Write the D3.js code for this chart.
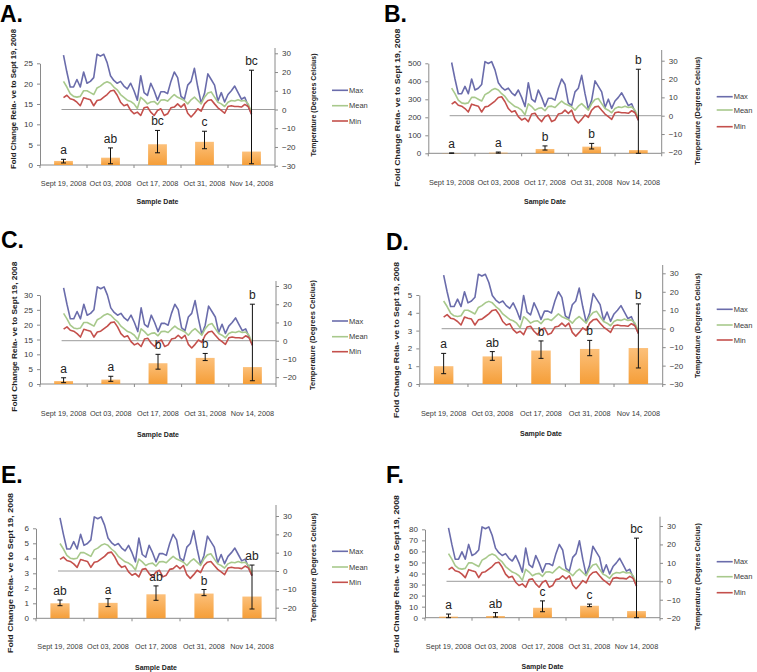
<!DOCTYPE html>
<html>
<head>
<meta charset="utf-8">
<script src="https://cdn.jsdelivr.net/npm/d3@7"></script>
<style>
  body { margin: 0; background: #fff; }
  svg { display: block; font-family: "Liberation Sans", Arial, sans-serif; }
</style>
</head>
<body>
<svg id="chart" width="757" height="672"></svg>
<script>
// sample dates (bar categories) and panel names
const sampleDates = ["Sept 19, 2008", "Oct 03, 2008", "Oct 17, 2008", "Oct 31, 2008", "Nov 14, 2008"];
const panelLabels = ["A.", "B.", "C.", "D.", "E.", "F."];

// fold change per panel (means, error bar ends, significance letters)
const foldMean = [
  [1.0, 1.8, 5.1, 5.7, 3.3],
  [1, 4, 24, 37, 18],
  [1.0, 1.5, 7.0, 8.8, 5.7],
  [1.0, 1.55, 1.88, 1.97, 2.02],
  [1.0, 1.03, 1.6, 1.65, 1.45],
  [1, 1.5, 9, 10.8, 6]
];
const errUpper = [
  [1.4, 4.2, 8.5, 8.3, 23.3],
  [2, 7, 41, 55, 467],
  [2.1, 2.6, 10, 10.3, 26.9],
  [1.72, 1.82, 2.42, 2.45, 4.5],
  [1.22, 1.31, 2.16, 1.92, 3.55],
  [3.3, 4.6, 15.2, 12.3, 72]
];
const errLower = [
  [0.5, 0.3, 3.0, 4.0, 0.3],
  [0, 1, 18, 24, 0],
  [0.45, 0.9, 5.0, 7.9, 1.1],
  [0.58, 1.33, 1.44, 1.59, 0.9],
  [0.84, 0.78, 1.2, 1.51, 0.62],
  [0, 0.6, 5.4, 10, 0]
];
const sigLetters = [
  ["a", "ab", "bc", "c", "bc"],
  ["a", "a", "b", "b", "b"],
  ["a", "a", "b", "b", "b"],
  ["a", "ab", "b", "b", "b"],
  ["ab", "a", "ab", "b", "ab"],
  ["a", "ab", "c", "c", "bc"]
];

// axis tick labels
const leftTicks = [
  [0, 5, 10, 15, 20, 25],
  [0, 100, 200, 300, 400, 500],
  [0, 5, 10, 15, 20, 25, 30],
  [0, 1, 2, 3, 4, 5],
  [0, 1, 2, 3, 4, 5, 6],
  [0, 10, 20, 30, 40, 50, 60, 70, 80]
];
const tempTicks = [
  [-30, -20, -10, 0, 10, 20, 30],
  [-20, -10, 0, 10, 20, 30],
  [-20, -10, 0, 10, 20, 30],
  [-30, -20, -10, 0, 10, 20, 30],
  [-20, -10, 0, 10, 20, 30],
  [-20, -10, 0, 10, 20, 30]
];

// daily air temperature, Sept 19 - Nov 14 2008
const tempMax = [29, 20, 12, 12, 16, 12, 20, 14, 15, 17, 29.5, 28.5, 29.5, 25, 18, 15.5, 14, 15, 12.5, 11,
  14, 10, 5, 18, 9, 7.5, 14, 10, 5, 9.5, 9.5, 8.5, 15, 20, 17, 7, 5.5, 13, 15, 22,
  12, 3.5, 8.5, 19, 16, 13, 4.5, 9, 4, 8, 10, 12.5, 9, 5.5, 6.5, 2, -2.5];
const tempMean = [15, 12, 8.5, 7, 6.6, 7, 10, 10, 9, 8, 11.5, 12.5, 14, 14.8, 14, 12, 10.5, 8, 6.5, 5,
  4.3, 3, 0.5, 6.5, 5, 3, 4, 4.3, 2.7, 5, 5.2, 4.5, 6.3, 8, 6.5, 5.7, 4.8, 3, 5.2, 6.6,
  4.8, 3, 6.6, 8.8, 9.4, 6.6, 3.9, 3, 1.6, 3.9, 4.8, 4.5, 5.2, 4.5, 4.8, 3, -1.5];
const tempMin = [6.3, 7.6, 5.7, 5.2, 3.9, 2, 6.3, 5.7, 5.2, 2, 4.8, 5.2, 6.6, 8, 9.9, 10.3, 7.6, 3.9, 2, 2.7,
  -0.5, -2.3, -1.4, -3.2, 0.9, 1.3, -1.4, -3.2, -0.5, 0.4, -3.2, -2.3, 0.9, 1.3, 3, 1.3, 3, -2, -4, -2,
  0.4, -0.9, 3, 4.8, 5.2, 3, 0.9, -0.5, -2, 1.6, 2, 1.6, 1.6, 1.3, 2.7, 1.6, -2.5];

const seriesNames = ["Max", "Mean", "Min"];
const seriesColors = ["#6a6cab", "#a8c98c", "#c4504c"];

// where each panel sits on the page
const layout = [
  {ax: 40, bx: 275, y0: 165, yTop: 63.3, t30: 53.3, t0: 109.5, tTop: 48, lx: 0, ly: 21.5, tickY: 183, dateY: 201.7,
   ltx: 13, lty: 99, ltLen: 140, rtx: 313.3, rty: 105, rtLen: 103, legX: 332, legY: [90.3, 105.7, 121]},
  {ax: 428.3, bx: 661.7, y0: 153.3, yTop: 63.3, t30: 60.7, t0: 115.7, tTop: 50, lx: 384, ly: 21.5, tickY: 182.7, dateY: 201.7,
   ltx: 397.3, lty: 107.7, ltLen: 158, rtx: 696.7, rty: 110.8, rtLen: 108, legX: 716.7, legY: [96.7, 110, 126.7]},
  {ax: 40, bx: 276, y0: 384, yTop: 295, t30: 286, t0: 340.7, tTop: 281, lx: 1, ly: 248, tickY: 413.3, dateY: 434,
   ltx: 14, lty: 336.7, ltLen: 150, rtx: 312.3, rty: 335, rtLen: 110, legX: 332, legY: [321, 336.7, 351.7]},
  {ax: 419.3, bx: 662.7, y0: 384, yTop: 295, t30: 273.3, t0: 328.7, tTop: 265, lx: 386, ly: 250, tickY: 413.3, dateY: 433.3,
   ltx: 396, lty: 340, ltLen: 156, rtx: 696.7, rty: 325.5, rtLen: 105, legX: 716.7, legY: [309.3, 325, 340]},
  {ax: 36, bx: 276, y0: 618.3, yTop: 528.3, t30: 516, t0: 571, tTop: 505, lx: 1, ly: 483, tickY: 646.7, dateY: 667.7,
   ltx: 10, lty: 573, ltLen: 160, rtx: 312.7, rty: 567.5, rtLen: 109, legX: 332, legY: [551.3, 567, 582.3]},
  {ax: 425, bx: 660, y0: 617.7, yTop: 529.3, t30: 526, t0: 581.3, tTop: 516.7, lx: 386, ly: 483, tickY: 646.7, dateY: 666.7,
   ltx: 396, lty: 574, ltLen: 158, rtx: 696.7, rty: 576.7, rtLen: 107, legX: 716.7, legY: [561.7, 576.7, 592.7]}
];

const axisColor = "#8a8a8a";
const textColor = "#3a3a3a";

const svg = d3.select("#chart");

// orange bar gradient
const grad = svg.append("defs").append("linearGradient")
  .attr("id", "barFill")
  .attr("x1", 0).attr("y1", 0).attr("x2", 0).attr("y2", 1);
grad.append("stop").attr("offset", "0%").attr("stop-color", "#fcc07a");
grad.append("stop").attr("offset", "100%").attr("stop-color", "#f59e38");

const days = d3.timeDay.range(new Date(2008, 8, 19), new Date(2008, 10, 15));
const temps = [tempMax, tempMean, tempMin];

layout.forEach((L, p) => {
  const g = svg.append("g");

  const x = d3.scaleBand().domain(sampleDates).range([L.ax, L.bx]);
  const bw = x.bandwidth();
  const yL = d3.scaleLinear().domain([0, d3.max(leftTicks[p])]).range([L.y0, L.yTop]);
  const yR = d3.scaleLinear().domain([0, 30]).range([L.t0, L.t30]);
  const xt = d3.scaleTime()
    .domain([days[0], days[days.length - 1]])
    .range([x(sampleDates[0]) + bw / 2, x(sampleDates[4]) + bw / 2]);

  // panel letter
  g.append("text")
    .attr("x", L.lx).attr("y", L.ly)
    .attr("font-size", "23px").attr("font-weight", "bold")
    .attr("fill", "#000")
    .text(panelLabels[p]);

  // left axis
  const left = g.append("g")
    .attr("transform", `translate(${L.ax},0)`)
    .call(d3.axisLeft(yL).tickValues(leftTicks[p]).tickFormat(d3.format("d"))
      .tickSize(3).tickSizeOuter(0).tickPadding(4));
  left.select(".domain").attr("stroke", axisColor);
  left.selectAll(".tick line").attr("stroke", axisColor);
  left.selectAll(".tick text").attr("fill", textColor).attr("font-size", "8px")
    .attr("font-family", "Liberation Sans, Arial, sans-serif");

  // right (temperature) axis
  const right = g.append("g")
    .attr("transform", `translate(${L.bx},0)`)
    .call(d3.axisRight(yR).tickValues(tempTicks[p]).tickFormat(d3.format("d"))
      .tickSize(3).tickPadding(4));
  right.select(".domain").remove();
  right.selectAll(".tick line").attr("stroke", axisColor);
  right.selectAll(".tick text").attr("fill", textColor).attr("font-size", "8px")
    .attr("font-family", "Liberation Sans, Arial, sans-serif");
  g.append("line")
    .attr("x1", L.bx).attr("x2", L.bx)
    .attr("y1", L.y0).attr("y2", L.tTop)
    .attr("stroke", axisColor);

  // bottom axis with boundary tick marks
  g.append("line")
    .attr("x1", L.ax).attr("x2", L.bx)
    .attr("y1", L.y0).attr("y2", L.y0)
    .attr("stroke", axisColor);
  g.selectAll(".xtick")
    .data(sampleDates.map(d => x(d)).concat([L.bx]))
    .enter().append("line")
    .attr("x1", d => d).attr("x2", d => d)
    .attr("y1", L.y0).attr("y2", L.y0 + 3)
    .attr("stroke", axisColor);
  g.selectAll(".xlabel")
    .data(sampleDates)
    .enter().append("text")
    .attr("x", d => x(d) + bw / 2)
    .attr("y", L.tickY)
    .attr("dy", "0.35em")
    .attr("text-anchor", "middle")
    .attr("font-size", "7.3px")
    .attr("fill", textColor)
    .text(d => d);

  // axis titles
  g.append("text")
    .attr("x", (L.ax + L.bx) / 2).attr("y", L.dateY)
    .attr("dy", "0.35em")
    .attr("text-anchor", "middle")
    .attr("font-size", "7.5px").attr("font-weight", "bold")
    .attr("fill", "#222")
    .attr("textLength", 42).attr("lengthAdjust", "spacingAndGlyphs")
    .text("Sample Date");
  g.append("text")
    .attr("transform", `translate(${L.ltx},${L.lty}) rotate(-90)`)
    .attr("dy", "0.35em")
    .attr("text-anchor", "middle")
    .attr("font-size", "8px").attr("font-weight", "bold")
    .attr("fill", "#222")
    .attr("textLength", L.ltLen).attr("lengthAdjust", "spacingAndGlyphs")
    .text("Fold Change Rela- ve to Sept 19, 2008");
  g.append("text")
    .attr("transform", `translate(${L.rtx},${L.rty}) rotate(-90)`)
    .attr("dy", "0.35em")
    .attr("text-anchor", "middle")
    .attr("font-size", "8px").attr("font-weight", "bold")
    .attr("fill", "#222")
    .attr("textLength", L.rtLen).attr("lengthAdjust", "spacingAndGlyphs")
    .text("Temperature (Degrees Celcius)");

  // zero line of the temperature axis
  g.append("line")
    .attr("x1", xt(days[0]) - 2).attr("x2", L.bx)
    .attr("y1", yR(0)).attr("y2", yR(0))
    .attr("stroke", "#9c9c9c");

  // temperature lines
  const line = d3.line()
    .x((d, i) => xt(days[i]))
    .y(d => yR(d));
  temps.forEach((s, k) => {
    g.append("path")
      .datum(s)
      .attr("d", line)
      .attr("fill", "none")
      .attr("stroke", seriesColors[k])
      .attr("stroke-width", 1.6)
      .attr("stroke-linejoin", "round");
  });

  // bars
  const barW = bw * 0.4;
  g.selectAll(".bar")
    .data(foldMean[p])
    .enter().append("rect")
    .attr("x", (d, i) => x(sampleDates[i]) + (bw - barW) / 2)
    .attr("y", d => yL(d))
    .attr("width", barW)
    .attr("height", d => L.y0 - yL(d))
    .attr("fill", "url(#barFill)");

  // error bars
  foldMean[p].forEach((d, i) => {
    const cx = x(sampleDates[i]) + bw / 2;
    const top = yL(errUpper[p][i]);
    const bot = yL(errLower[p][i]);
    g.append("line").attr("x1", cx).attr("x2", cx).attr("y1", top).attr("y2", bot)
      .attr("stroke", "#111").attr("stroke-width", 1);
    [top, bot].forEach(yy => {
      g.append("line").attr("x1", cx - 2.5).attr("x2", cx + 2.5).attr("y1", yy).attr("y2", yy)
        .attr("stroke", "#111").attr("stroke-width", 1);
    });
    g.append("text")
      .attr("x", cx).attr("y", top - 5)
      .attr("text-anchor", "middle")
      .attr("font-size", "12px")
      .attr("fill", "#222")
      .text(sigLetters[p][i]);
  });

  // legend
  seriesNames.forEach((name, k) => {
    g.append("line")
      .attr("x1", L.legX).attr("x2", L.legX + 16)
      .attr("y1", L.legY[k]).attr("y2", L.legY[k])
      .attr("stroke", seriesColors[k]).attr("stroke-width", 1.6);
    g.append("text")
      .attr("x", L.legX + 17).attr("y", L.legY[k])
      .attr("dy", "0.35em")
      .attr("font-size", "7.5px")
      .attr("fill", textColor)
      .text(name);
  });
});
</script>
</body>
</html>
